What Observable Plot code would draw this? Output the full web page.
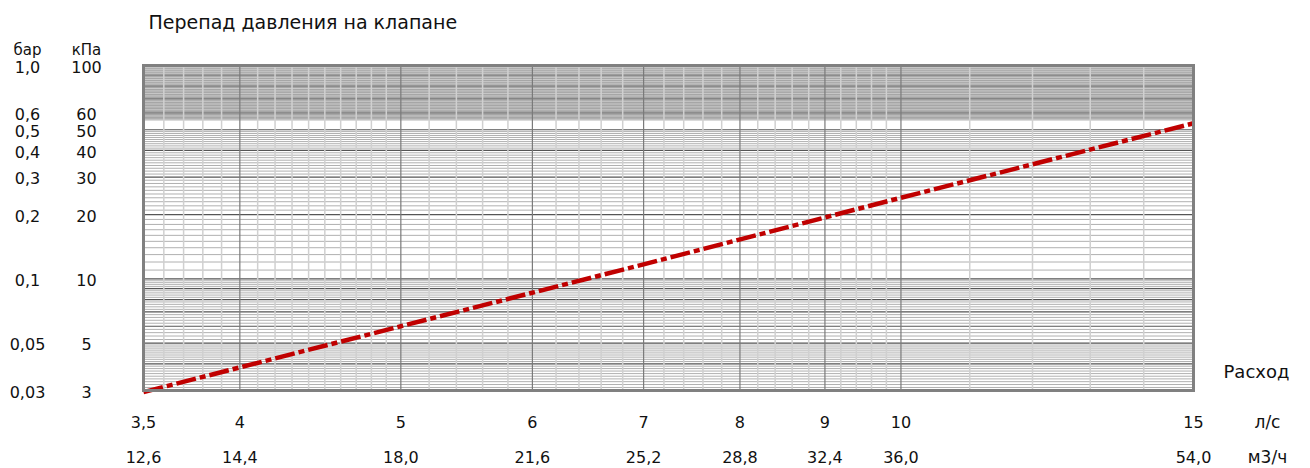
<!DOCTYPE html>
<html>
<head>
<meta charset="utf-8">
<script src="https://cdn.jsdelivr.net/npm/d3@7"></script>
<script src="https://cdn.jsdelivr.net/npm/@observablehq/plot@0.6"></script>
<style>
  html, body { margin: 0; padding: 0; background: #fff; }
  #chart svg { display: block; }
</style>
</head>
<body>
<div id="chart"></div>
<script>
// ---- Data ----
const flowLs = [3.5, 5, 7, 10, 15];          // flow, l/s
const dropKpa = [2.95, 6.0, 11.7, 24.0, 53.6]; // pressure drop, kPa

const xTicksLs = [3.5, 4, 5, 6, 7, 8, 9, 10, 15];
const xLabelsLs = ["3,5", "4", "5", "6", "7", "8", "9", "10", "15"];
const xLabelsM3h = ["12,6", "14,4", "18,0", "21,6", "25,2", "28,8", "32,4", "36,0", "54,0"];

const yTicksKpa = [100, 60, 50, 40, 30, 20, 10, 5, 3];
const yLabelsKpa = ["100", "60", "50", "40", "30", "20", "10", "5", "3"];
const yLabelsBar = ["1,0", "0,6", "0,5", "0,4", "0,3", "0,2", "0,1", "0,05", "0,03"];

const shadedBand = [{y1: 55, y2: 100}]; // grey zone, kPa

// ---- Grid lines ----
const r = (a, b, s) => d3.range(a, b + 1e-9, s).map(v => +v.toFixed(2));
const hMajor = [4, 5, 6, 7, 8, 9, 10, 20, 30, 40, 50];
const hMinorWhite = [...r(3.1, 4.9, 0.1), ...r(5.2, 9.8, 0.2), ...r(11, 49, 1)].filter(v => !hMajor.includes(v));
const hBandMajor = [60, 70, 80, 90];
const hBandMinor = [56, 58, 62, 64, 66, 68, 72, 74, 76, 78, 82, 84, 86, 88, 92, 94, 96, 98];
const vMajor = [4, 5, 6, 7, 8, 9, 10];
const vMinor = [...r(3.6, 3.9, 0.1), ...r(4.1, 4.9, 0.1), ...r(5.2, 5.8, 0.2), ...r(6.2, 6.8, 0.2),
                ...r(7.2, 7.8, 0.2), ...r(8.2, 8.8, 0.2), ...r(9.2, 9.8, 0.2), 11, 12, 13, 14];

const curve = flowLs.map((q, i) => ({q, p: dropKpa[i]}));
const font = "DejaVu Sans, sans-serif";

const chart = Plot.plot({
  width: 1310,
  height: 468,
  marginLeft: 143,
  marginRight: 117,
  marginTop: 65,
  marginBottom: 78,
  style: {fontFamily: font, fontSize: "15px", color: "#111", background: "#fff"},
  x: {type: "log", domain: [3.5, 15], axis: null},
  y: {type: "log", domain: [3, 100], axis: null},
  marks: [
    Plot.rectY(shadedBand, {y1: "y1", y2: "y2", fill: "#a6a6a6"}),
    Plot.ruleY(hMinorWhite, {stroke: "#b0b0b0", strokeWidth: 1}),
    Plot.ruleY(hBandMinor, {stroke: "#cacaca", strokeWidth: 1}),
    Plot.ruleY(hBandMajor, {stroke: "#858585", strokeWidth: 1.2}),
    Plot.ruleY(hMajor, {stroke: "#555", strokeWidth: 1.2}),
    Plot.ruleX(vMinor, {stroke: "#d0d0d0", strokeWidth: 1.5}),
    Plot.ruleX(vMajor, {stroke: "#7a7a7a", strokeWidth: 1.2}),
    Plot.line(curve, {x: "q", y: "p", stroke: "#c00000", strokeWidth: 4.5,
                      strokeDasharray: "20,4,6,4", strokeLinecap: "butt"}),
    Plot.frame({stroke: "#808080", strokeWidth: 3}),
    // y labels (two columns)
    Plot.text(yTicksKpa, {y: d => d, text: (d, i) => yLabelsKpa[i], frameAnchor: "left", dx: -57, dy: 2,
                          lineAnchor: "middle", textAnchor: "middle", fontSize: 16}),
    Plot.text(yTicksKpa, {y: d => d, text: (d, i) => yLabelsBar[i], frameAnchor: "left", dx: -116, dy: 2,
                          lineAnchor: "middle", textAnchor: "middle", fontSize: 16}),
    Plot.text(["бар"], {frameAnchor: "top-left", dx: -116, dy: -15, lineAnchor: "middle",
                        textAnchor: "middle", fontSize: 15}),
    Plot.text(["кПа"], {frameAnchor: "top-left", dx: -57, dy: -15, lineAnchor: "middle",
                        textAnchor: "middle", fontSize: 15}),
    // title
    Plot.text(["Перепад давления на клапане"], {frameAnchor: "top-left", dx: 5, dy: -43, lineAnchor: "middle",
                                                  textAnchor: "start", fontSize: 19}),
    // x labels (two rows)
    Plot.text(xTicksLs, {x: d => d, text: (d, i) => xLabelsLs[i], frameAnchor: "bottom", dy: 32,
                         lineAnchor: "middle", fontSize: 16}),
    Plot.text(xTicksLs, {x: d => d, text: (d, i) => xLabelsM3h[i], frameAnchor: "bottom", dy: 67,
                         lineAnchor: "middle", fontSize: 16}),
    Plot.text(["Расход"], {frameAnchor: "bottom-right", dx: 30, dy: -18, lineAnchor: "middle",
                           textAnchor: "start", fontSize: 18}),
    Plot.text(["л/с"], {frameAnchor: "bottom-right", dx: 74, dy: 32, lineAnchor: "middle",
                        textAnchor: "middle", fontSize: 17}),
    Plot.text(["м3/ч"], {frameAnchor: "bottom-right", dx: 74, dy: 67, lineAnchor: "middle",
                         textAnchor: "middle", fontSize: 17})
  ]
});
document.getElementById("chart").append(chart);
</script>
</body>
</html>
